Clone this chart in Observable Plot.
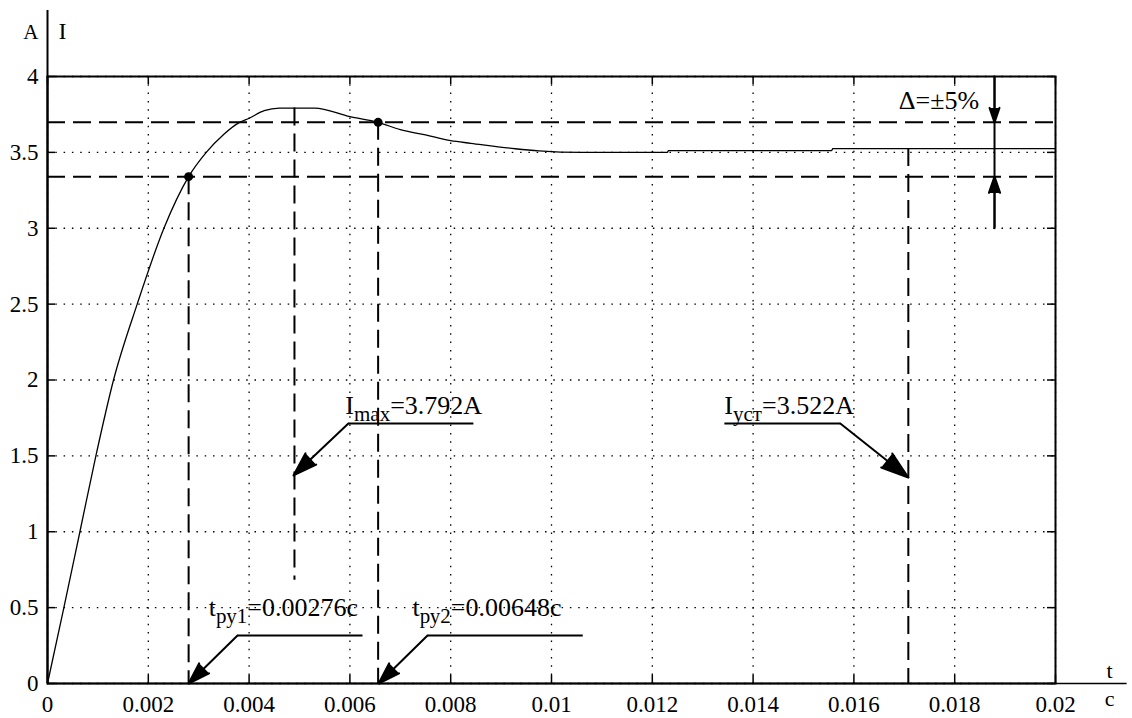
<!DOCTYPE html>
<html>
<head>
<meta charset="utf-8">
<script src="https://cdn.jsdelivr.net/npm/d3@7"></script>
<script src="https://cdn.jsdelivr.net/npm/@observablehq/plot@0.6"></script>
<style>
  html, body { margin: 0; padding: 0; background: #fff; font-family: "Liberation Serif", "DejaVu Serif", serif; }
  #chart svg text, #chart svg tspan { font-family: "Liberation Serif", "DejaVu Serif", serif !important; }
</style>
</head>
<body>
<div id="chart"></div>
<script>
// ---- data ----
const curveT = [0, 0.000325, 0.000643, 0.00096, 0.00131, 0.00178, 0.00231, 0.0028, 0.00315, 0.0035, 0.00381, 0.004, 0.0043, 0.0046, 0.0049, 0.0053, 0.006, 0.00656, 0.007, 0.0075, 0.008, 0.0084, 0.00928, 0.00975, 0.0106, 0.0123, 0.01232, 0.01556, 0.01558, 0.02];
const curveI = [0, 0.5, 1.0, 1.5, 2.0, 2.5, 3.0, 3.34, 3.5, 3.62, 3.698, 3.725, 3.775, 3.792, 3.792, 3.792, 3.735, 3.698, 3.65, 3.615, 3.577, 3.56, 3.524, 3.51, 3.5, 3.5, 3.512, 3.512, 3.525, 3.525];

const xTicks = [0, 0.002, 0.004, 0.006, 0.008, 0.01, 0.012, 0.014, 0.016, 0.018, 0.02];
const xTickLabels = ["0", "0.002", "0.004", "0.006", "0.008", "0.01", "0.012", "0.014", "0.016", "0.018", "0.02"];
const yTicks = [0, 0.5, 1, 1.5, 2, 2.5, 3, 3.5, 4];
const yTickLabels = ["0", "0.5", "1", "1.5", "2", "2.5", "3", "3.5", "4"];

// ±5% band limits
const bandI = [3.698, 3.34];
// vertical dashed drop lines
const dropT = [0.0028, 0.00656, 0.0049, 0.01708];
const dropTop = [3.34, 3.698, 3.792, 3.525];
const dropBottom = [0, 0, 0.68, 0];
// marked points
const markT = [0.0028, 0.00656];
const markI = [3.34, 3.698];

// annotation leaders: horizontal shelf + arrow to tip
const shelfT1 = [0.00597, 0.01343, 0.00377, 0.00754];
const shelfT2 = [0.00845, 0.01573, 0.00625, 0.01062];
const shelfI = [1.713, 1.713, 0.316, 0.316];
const elbowT = [0.00597, 0.01573, 0.00377, 0.00754];
const tipT = [0.00488, 0.01708, 0.0028, 0.00657];
const tipI = [1.371, 1.357, 0, 0];

// annotation texts
const labelT = [0.00591, 0.01343, 0.0032, 0.00724, 0.01689];
const labelI = [1.779, 1.779, 0.448, 0.448, 3.789];
const labelMain = ["I", "I", "t", "t", "Δ=±5%"];
const labelSub = ["max", "уст", "ру1", "ру2", ""];
const labelRest = ["=3.792A", "=3.522A", "=0.00276с", "=0.00648с", ""];

// Δ tolerance arrows
const deltaT = 0.01879;
const deltaFrom = [4, 3.0];
const deltaTo = [3.698, 3.34];

// axis unit labels
const yUnit = "A", yName = "I", xName = "t", xUnit = "с";

const idx = (arr) => arr.map((_, i) => i);
const dash = "18,8";
const dots = "1.5,6.8";
const serif = "Liberation Serif, DejaVu Serif, serif";
const labelFull = idx(labelT).map(i => labelMain[i] + labelSub[i] + labelRest[i]);

const chart = Plot.plot({
  width: 1132,
  height: 718,
  marginLeft: 47,
  marginRight: 77,
  marginTop: 76,
  marginBottom: 35,
  x: {domain: [0, 0.02]},
  y: {domain: [0, 4]},
  style: {fontFamily: serif, fontSize: "23px", background: "#fff", color: "#000"},
  marks: [
    // dotted grid
    Plot.gridX(xTicks, {stroke: "#000", strokeOpacity: 1, strokeWidth: 1.3, strokeDasharray: dots}),
    Plot.gridY(yTicks, {stroke: "#000", strokeOpacity: 1, strokeWidth: 1.3, strokeDasharray: dots}),
    // inner tick marks on all four sides
    Plot.ruleX(xTicks, {x: d => d, insetTop: 599, stroke: "#000", strokeWidth: 1.5}),
    Plot.ruleX(xTicks, {x: d => d, insetBottom: 599, stroke: "#000", strokeWidth: 1.5}),
    Plot.ruleY(yTicks, {y: d => d, insetRight: 1000, stroke: "#000", strokeWidth: 1.5}),
    Plot.ruleY(yTicks, {y: d => d, insetLeft: 1000, stroke: "#000", strokeWidth: 1.5}),
    // axes labels
    Plot.axisX(xTicks, {tickSize: 0, tickPadding: 12, tickFormat: d => xTickLabels[xTicks.indexOf(d)], label: null, fontSize: 23, fontFamily: serif}),
    Plot.axisY(yTicks, {tickSize: 0, tickPadding: 9, tickFormat: d => yTickLabels[yTicks.indexOf(d)], label: null, fontSize: 23, fontFamily: serif}),
    // frame
    Plot.frame({stroke: "#000", strokeWidth: 2}),
    // axis extensions
    Plot.ruleY([0], {x1: 0, x2: 0.02142, stroke: "#000", strokeWidth: 1.6}),
    Plot.ruleX([0], {y1: 0, y2: 4.435, stroke: "#000", strokeWidth: 2}),
    // dashed ±5% lines
    Plot.ruleY(bandI, {y: d => d, stroke: "#000", strokeWidth: 2, strokeDasharray: dash}),
    // dashed drop lines
    Plot.ruleX(idx(dropT), {x: i => dropT[i], y1: i => dropTop[i], y2: i => dropBottom[i], stroke: "#000", strokeWidth: 2, strokeDasharray: dash}),
    // the response curve
    Plot.line(idx(curveT), {x: i => curveT[i], y: i => curveI[i], stroke: "#000", strokeWidth: 1.3, curve: "monotone-x"}),
    // marked points
    Plot.dot(idx(markT), {x: i => markT[i], y: i => markI[i], r: 4.5, fill: "#000", stroke: "none"}),
    // Δ tolerance indicator
    Plot.ruleX([deltaT], {x: d => d, y1: 3.0, y2: 4, stroke: "#000", strokeWidth: 2}),
    Plot.arrow(idx(deltaFrom), {x1: deltaT, x2: deltaT, y1: i => deltaFrom[i], y2: i => deltaTo[i], stroke: "#000", strokeWidth: 2, headLength: 18, headAngle: 38}),
    // annotation leaders
    Plot.link(idx(shelfT1), {x1: i => shelfT1[i], x2: i => shelfT2[i], y1: i => shelfI[i], y2: i => shelfI[i], stroke: "#000", strokeWidth: 2}),
    Plot.arrow(idx(elbowT), {x1: i => elbowT[i], y1: i => shelfI[i], x2: i => tipT[i], y2: i => tipI[i], stroke: "#000", strokeWidth: 2, headLength: 22, headAngle: 36}),
    // annotation texts
    Plot.text(idx(labelT), {x: i => labelT[i], y: i => labelI[i], text: i => labelFull[i], textAnchor: "start", lineAnchor: "bottom", fontSize: 26, fontFamily: serif, fill: "#000"}),
    // axis unit / name labels
    Plot.text([yUnit], {frameAnchor: "top-left", text: d => d, dx: -9, dy: -38, textAnchor: "end", lineAnchor: "bottom", fontSize: 21, fontFamily: serif}),
    Plot.text([yName], {frameAnchor: "top-left", text: d => d, dx: 11, dy: -38, textAnchor: "start", lineAnchor: "bottom", fontSize: 24, fontFamily: serif}),
    Plot.text([xName], {frameAnchor: "bottom-right", text: d => d, dx: 54, dy: -6, textAnchor: "middle", lineAnchor: "bottom", fontSize: 22, fontFamily: serif}),
    Plot.text([xUnit], {frameAnchor: "bottom-right", text: d => d, dx: 54, dy: 22, textAnchor: "middle", lineAnchor: "bottom", fontSize: 22, fontFamily: serif})
  ]
});

// filled arrowheads (fill closes the open head subpath)
d3.select(chart).selectAll('g[aria-label="arrow"] path').attr("fill", "#000").attr("stroke-linejoin", "miter");

// subscripts in annotation texts
d3.select(chart).selectAll("text").each(function() {
  const i = labelFull.indexOf(this.textContent);
  if (i < 0 || !labelSub[i]) return;
  const t = d3.select(this);
  t.text(null);
  t.append("tspan").text(labelMain[i]);
  t.append("tspan").attr("dy", 7).attr("font-size", 21).text(labelSub[i]);
  t.append("tspan").attr("dy", -7).text(labelRest[i]);
});

document.getElementById("chart").appendChild(chart);
</script>
</body>
</html>
